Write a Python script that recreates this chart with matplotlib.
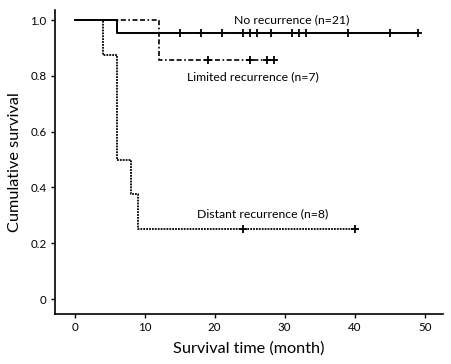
import matplotlib.pyplot as plt

plt.rcParams['font.family'] = ['Lato', 'DejaVu Sans']

# step curves: event times and survival after each step
no_t = [0, 6, 49]
no_s = [1.0, 0.952, 0.952]
no_cens = [15, 18, 21, 24, 25, 26, 28, 31, 32, 33, 39, 45, 49]

lim_t = [0, 12, 28.5]
lim_s = [1.0, 0.857, 0.857]
lim_cens = [19, 25, 27.5, 28.5]

dist_t = [0, 4, 6, 8, 9, 40]
dist_s = [1.0, 0.875, 0.5, 0.375, 0.25, 0.25]
dist_cens = [24, 40]

xticks = [0, 10, 20, 30, 40, 50]
yticks = [0, 0.2, 0.4, 0.6, 0.8, 1.0]
ylabels = ["0", "0.2", "0.4", "0.6", "0.8", "1.0"]


def surv_at(ts, ss, x):
    v = ss[0]
    for t, s in zip(ts, ss):
        if t <= x:
            v = s
    return v


fig = plt.figure(figsize=(4.52, 3.64), dpi=100)
ax = fig.add_axes([0.1217, 0.137, 0.858, 0.8355])

curves = [
    (no_t, no_s, no_cens, "-", 1.4),
    (lim_t, lim_s, lim_cens, (0, (3, 1.5, 3, 1.5, 1, 1.5)), 1.2),
    (dist_t, dist_s, dist_cens, (0, (1, 0.6)), 1.3),
]
for ts, ss, cens, ls, lw in curves:
    ax.step(ts, ss, where="post", color="black", linestyle=ls, linewidth=lw)
    ax.plot(cens, [surv_at(ts, ss, c) for c in cens], "+", color="black",
            markersize=6, markeredgewidth=1.3)

ax.text(31, 1.0, "No recurrence (n=21)", ha="center", va="center", fontsize=8.8)
ax.text(25.5, 0.795, "Limited recurrence (n=7)", ha="center", va="center", fontsize=8.8)
ax.text(26.8, 0.305, "Distant recurrence (n=8)", ha="center", va="center", fontsize=8.8)

ax.set_xlim(-2.8, 52.6)
ax.set_ylim(-0.054, 1.036)
ax.set_xticks(xticks)
ax.set_yticks(yticks)
ax.set_yticklabels(ylabels)
ax.tick_params(direction="out", length=3, width=1, labelsize=8.3, pad=3)
for s in ["top", "right"]:
    ax.spines[s].set_visible(False)
for s in ["left", "bottom"]:
    ax.spines[s].set_linewidth(1.2)

ax.set_xlabel("Survival time (month)", fontsize=11.7, labelpad=6)
ax.set_ylabel("Cumulative survival", fontsize=11.7, labelpad=6)

fig.savefig("out.png", dpi=100)
